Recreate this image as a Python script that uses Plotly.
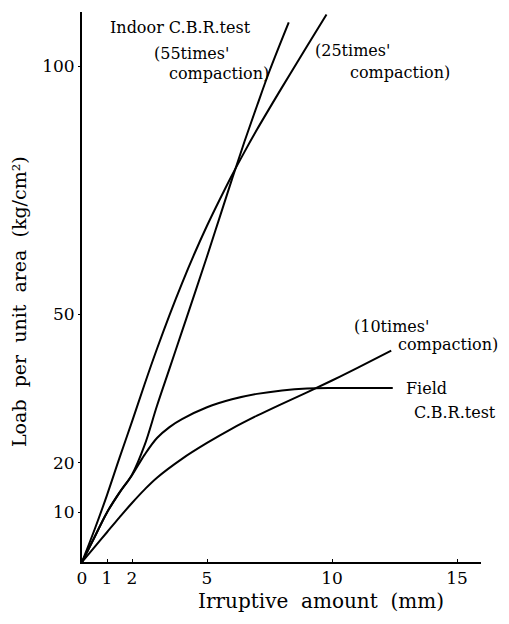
import plotly.graph_objects as go

# --- data ---
x_55 = [0, 0.5, 1.0, 1.5, 2.0, 2.5, 3.0, 3.5, 4.0, 4.5, 5.0, 5.5, 6.0, 6.5, 7.0, 7.5, 8.27]
y_55 = [0, 5.0, 10.0, 14.0, 17.6, 23.5, 31.5, 39.0, 46.5, 54.0, 61.6, 69.4, 77.2, 84.8, 92.0, 99.0, 108.8]

x_25 = [0, 0.5, 1.0, 1.5, 2.0, 2.5, 3.0, 3.5, 4.0, 4.5, 5.0, 5.5, 6.0, 6.5, 7.0, 8.0, 9.0, 9.78]
y_25 = [0, 6.5, 13.5, 21.0, 28.3, 35.8, 43.0, 49.8, 56.2, 62.2, 67.8, 73.0, 78.0, 82.7, 87.2, 95.7, 104.0, 110.4]

x_10 = [0, 0.5, 1.0, 1.5, 2.0, 2.5, 3.0, 4.0, 5.0, 6.0, 7.0, 8.0, 9.0, 10.0, 11.0, 12.37]
y_10 = [0, 3.0, 6.0, 9.0, 11.9, 14.6, 17.0, 20.8, 24.0, 26.9, 29.5, 31.9, 34.2, 36.6, 39.1, 42.6]

x_field = [0, 0.5, 1.0, 1.5, 2.0, 2.5, 3.0, 3.5, 4.0, 5.0, 6.0, 7.0, 8.0, 9.0, 10.0, 11.0, 12.43]
y_field = [0, 5.0, 10.0, 14.0, 17.5, 21.6, 25.0, 27.2, 28.8, 31.2, 32.8, 33.9, 34.6, 35.0, 35.1, 35.1, 35.1]

x_ticks = [0, 1, 2, 5, 10, 15]
y_ticks = [10, 20, 50, 100]

FONT = "DejaVu Serif"
OFF = 8  # page body margin
W, H = 509 - OFF, 624 - OFF
L, R, T, B = 82 - OFF, 28, 12 - OFF, 62

fig = go.Figure()
for xs, ys in [(x_55, y_55), (x_25, y_25), (x_10, y_10), (x_field, y_field)]:
    fig.add_trace(go.Scatter(x=xs, y=ys, mode="lines",
                             line=dict(color="black", width=2, shape="spline", smoothing=1.0),
                             showlegend=False, hoverinfo="skip"))

def px(xp, yp):
    xp -= OFF
    yp -= OFF
    return (xp - L) / (W - L - R), (H - B - yp) / (H - T - B)

labels = [
    ("Indoor C.B.R.test", 108, 28),
    ("(55times'", 152, 53),
    ("compaction)", 167, 73),
    ("(25times'", 313, 50),
    ("compaction)", 348, 72),
    ("(10times'", 352, 326),
    ("compaction)", 396, 344),
    ("Field", 404, 388),
    ("C.B.R.test", 412, 412),
]
for text, xp, yp in labels:
    ax, ay = px(xp, yp)
    fig.add_annotation(text=text, x=ax, y=ay, xref="paper", yref="paper",
                       xanchor="left", yanchor="middle", showarrow=False,
                       font=dict(family=FONT, size=16, color="black"))

# axis titles
tx, ty = px(321, 601)
fig.add_annotation(text="Irruptive\u00a0\u00a0amount\u00a0\u00a0(mm)", x=tx, y=ty, xref="paper", yref="paper",
                   xanchor="center", yanchor="middle", showarrow=False,
                   font=dict(family=FONT, size=20, color="black"))
tx, ty = px(19, 302)
fig.add_annotation(text="Loab\u00a0\u00a0per\u00a0\u00a0unit\u00a0\u00a0area\u00a0\u00a0(kg/cm²)", x=tx, y=ty,
                   xref="paper", yref="paper", textangle=-90,
                   xanchor="center", yanchor="middle", showarrow=False,
                   font=dict(family=FONT, size=19, color="black"))

fig.update_layout(
    width=W, height=H,
    margin=dict(l=L, r=R, t=T, b=B, autoexpand=False),
    plot_bgcolor="white", paper_bgcolor="white",
    font=dict(family=FONT, size=17, color="black"),
    xaxis=dict(range=[0, 15.96], tickvals=x_ticks, ticktext=[str(v) for v in x_ticks],
               showline=True, linecolor="black", linewidth=2, showgrid=False, zeroline=False,
               ticks="inside", ticklen=3, tickcolor="black", automargin=False),
    yaxis=dict(range=[0, 110.9], tickvals=y_ticks, ticktext=[str(v) for v in y_ticks],
               showline=True, linecolor="black", linewidth=2, showgrid=False, zeroline=False,
               ticks="outside", ticklen=2, tickcolor="black", automargin=False),
)

fig.write_html("out.html")
